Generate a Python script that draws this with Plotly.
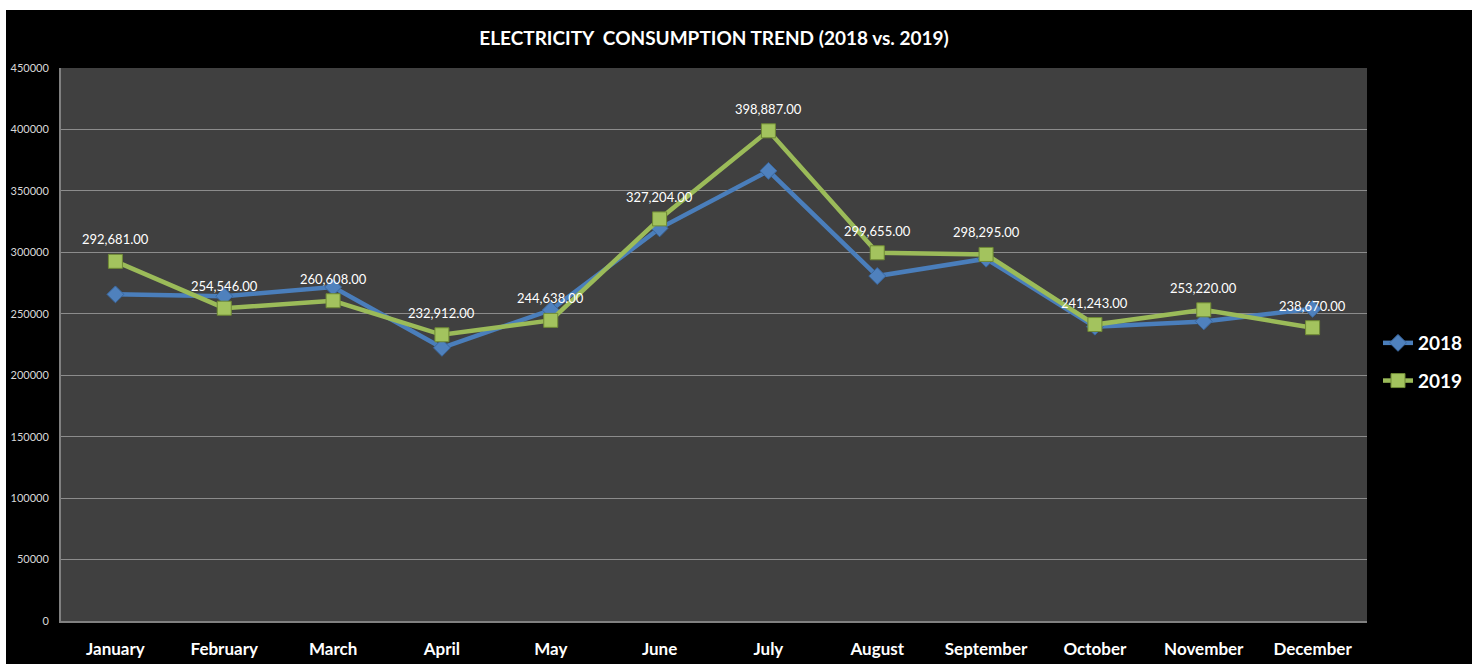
import plotly.graph_objects as go

months = ["January", "February", "March", "April", "May", "June", "July",
          "August", "September", "October", "November", "December"]
y2018 = [265800, 264300, 271700, 222300, 253000, 319500, 366300,
         280700, 294800, 239500, 243800, 254000]
y2019 = [292681, 254546, 260608, 232912, 244638, 327204, 398887,
         299655, 298295, 241243, 253220, 238670]
labels2019 = [f"{v:,.2f}" for v in y2019]
yticks = [0, 50000, 100000, 150000, 200000, 250000, 300000, 350000, 400000, 450000]

W, H = 1472, 664
ML, MR, MT, MB = 61, 105, 68, 43
FONT = "Lato, Open Sans, sans-serif"

fig = go.Figure()
fig.add_trace(go.Scatter(
    x=months, y=y2018, name="2018", mode="lines+markers", legendgroup="a",
    line=dict(color="#4a7ebb", width=4.5),
    marker=dict(symbol="diamond", size=13, color="#4f81bd",
                line=dict(color="#3a68a0", width=1)),
))
fig.add_trace(go.Scatter(
    x=months, y=y2019, name="2019", mode="lines+markers", legendgroup="b",
    line=dict(color="#9bbb59", width=4.5),
    marker=dict(symbol="square", size=14, color="#a3c35e",
                line=dict(color="#6f8a35", width=1)),
))

annotations = [
    dict(x=m, y=v, xref="x", yref="y", text=t, showarrow=False,
         yshift=22, font=dict(family=FONT, size=13, color="white"))
    for m, v, t in zip(months, y2019, labels2019)
]

def px_x(p):
    return (p - ML) / (W - ML - MR)

def px_y(p):
    return 1 - (p - MT) / (H - MT - MB)

fig.update_layout(
    width=W, height=H,
    margin=dict(l=ML, r=MR, t=MT, b=MB, autoexpand=False),
    paper_bgcolor="black",
    plot_bgcolor="#404040",
    title=dict(text="<b>ELECTRICITY  CONSUMPTION TREND (2018 vs. 2019)</b>",
               x=0.5, xref="paper", xanchor="center", y=1 - 38 / H, yanchor="middle",
               font=dict(family=FONT, size=19, color="white")),
    showlegend=True,
    legend=dict(x=1378 / W, xref="container", xanchor="left",
                y=1 - 362 / H, yref="container", yanchor="middle",
                bgcolor="rgba(0,0,0,0)",
                font=dict(family=FONT, size=19, color="white", weight="bold"),
                itemwidth=30, tracegroupgap=10),
    annotations=annotations,
    xaxis=dict(range=[-0.5, 11.5], showgrid=False, showline=True,
               linecolor="#808080", linewidth=2, automargin=False,
               ticks="outside", ticklen=12, tickcolor="rgba(0,0,0,0)",
               tickfont=dict(family=FONT, size=17, color="white", weight="bold")),
    yaxis=dict(range=[0, 450000], tickvals=yticks, tickformat="d",
               showgrid=True, gridcolor="#8c8c8c", gridwidth=1,
               showline=True, linecolor="#808080", linewidth=2,
               zeroline=False, automargin=False,
               ticks="outside", ticklen=8, tickcolor="rgba(0,0,0,0)",
               tickfont=dict(family=FONT, size=11, color="#d9d9d9")),
    shapes=[
        dict(type="rect", xref="paper", yref="paper", layer="above",
             x0=px_x(0), x1=px_x(W), y0=px_y(0), y1=px_y(10),
             fillcolor="white", line=dict(width=0)),
        dict(type="rect", xref="paper", yref="paper", layer="above",
             x0=px_x(0), x1=px_x(6), y0=px_y(0), y1=px_y(H),
             fillcolor="white", line=dict(width=0)),
    ],
)

fig.write_html("out.html")
